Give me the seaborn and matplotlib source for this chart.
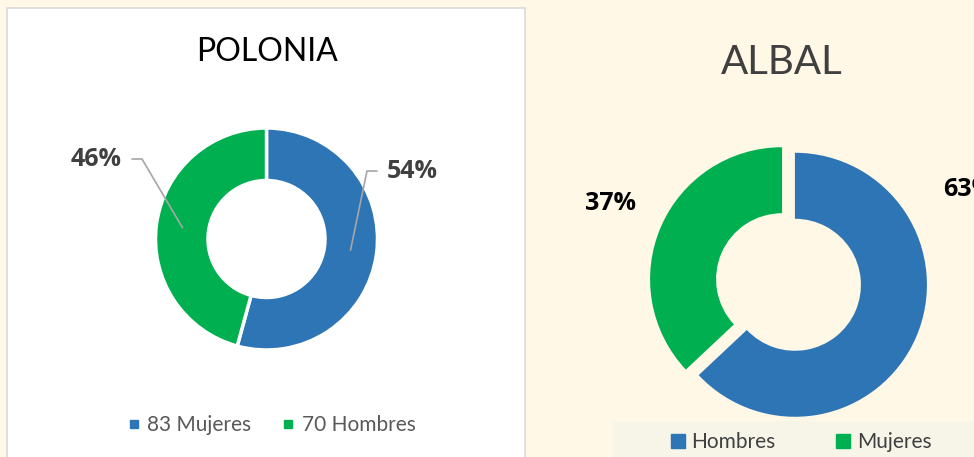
import numpy as np
import matplotlib
matplotlib.use('Agg')
import matplotlib.pyplot as plt
from matplotlib.patches import Rectangle
from matplotlib.lines import Line2D
import seaborn as sns

# data
polonia_labels = ['Mujeres', 'Hombres']
polonia_counts = [83, 70]
albal_labels = ['Hombres', 'Mujeres']
albal_pct = [63, 37]

BLUE = '#2E75B6'
GREEN = '#00B050'
CREAM = '#FFF8E6'

sns.set_style('white')
plt.rcParams['font.family'] = ['Lato', 'DejaVu Sans']
PCT_FONT = ['Open Sans', 'DejaVu Sans']

W, H = 974, 457
fig = plt.figure(figsize=(W / 100, H / 100), dpi=100, facecolor=CREAM)
ax = fig.add_axes([0, 0, 1, 1])
ax.set_facecolor(CREAM)


def py(y):
    # pixel row (from top) -> data y
    return H - y


# left panel
ax.add_patch(Rectangle((7, py(457) - 5), 518, 449 + 5, facecolor='white',
                       edgecolor='#D9D9D9', lw=1.2, zorder=0))
# right legend box
ax.add_patch(Rectangle((613, -5), 400, py(421) + 5, facecolor='#F6F5E8',
                       edgecolor='none', zorder=0))

# POLONIA donut
c1 = (266.5, py(239))
r1, hole1 = 111, 58.5
ax.pie(polonia_counts, colors=[BLUE, GREEN], startangle=90, counterclock=False,
       center=c1, radius=r1,
       wedgeprops=dict(width=r1 - hole1, edgecolor='white', linewidth=2.5))
tot = sum(polonia_counts)
fracs = [v / tot for v in polonia_counts]
start = 0
mids = []
for f in fracs:
    mids.append(start + f * 180)
    start += f * 360
rm = (r1 + hole1) / 2
# leader ends, label spots (pixels)
elbows = [(367, 171), (142, 159)]
ends = [(377, 171), (132, 159)]
for i, f in enumerate(fracs):
    a = np.deg2rad(mids[i])
    ax0 = c1[0] + rm * np.sin(a)
    ay0 = c1[1] + rm * np.cos(a)
    ax.plot([ax0, elbows[i][0], ends[i][0]],
            [ay0, py(elbows[i][1]), py(ends[i][1])],
            color='#A6A6A6', lw=1.2, zorder=3)
    ha = 'left' if i == 0 else 'right'
    xx = ends[i][0] + (10 if i == 0 else -10)
    ax.text(xx, py(ends[i][1]), f'{round(f * 100)}%', ha=ha, va='center',
            fontsize=18, fontweight='bold', color='#404040', family=PCT_FONT)

ax.text(267, py(52), 'POLONIA', ha='center', va='center', fontsize=23,
        color='black')

# ALBAL donut
c2 = (788.5, py(282))
r2, hole2 = 132, 66
ax.pie(albal_pct, colors=[BLUE, GREEN], startangle=90, counterclock=False,
       center=c2, radius=r2, explode=[7, 7],
       wedgeprops=dict(width=r2 - hole2, edgecolor='none'))
ax.text(610, py(203), f'{albal_pct[1]}%', ha='center', va='center',
        fontsize=18, fontweight='bold', color='black', family=PCT_FONT)
ax.text(943, py(190), f'{albal_pct[0]}%', ha='left', va='center',
        fontsize=18, fontweight='bold', color='black', family=PCT_FONT)
ax.text(782, py(63), 'ALBAL', ha='center', va='center', fontsize=29,
        color='#404040')

ax.set_xlim(0, W)
ax.set_ylim(0, H)
ax.set_aspect('auto')
ax.axis('off')

# legends
h1 = [Line2D([], [], ls='none', marker='s', ms=6, color=c)
      for c in [BLUE, GREEN]]
fig.legend(h1, [f'{n} {l}' for n, l in zip(polonia_counts, polonia_labels)],
           loc='center', bbox_to_anchor=(272 / W, 1 - 425 / H), ncol=2,
           frameon=False, fontsize=15, labelcolor='#595959',
           handlelength=0.5, handletextpad=0.4, columnspacing=1.5)
h2 = [Line2D([], [], ls='none', marker='s', ms=10.5, color=c)
      for c in [BLUE, GREEN]]
fig.legend(h2, albal_labels, loc='center',
           bbox_to_anchor=(801 / W, 1 - 442 / H), ncol=2, frameon=False,
           fontsize=15, labelcolor='#404040',
           handlelength=0.7, handletextpad=0.3, columnspacing=2.9)

fig.savefig('out.png', dpi=100, facecolor=CREAM)
